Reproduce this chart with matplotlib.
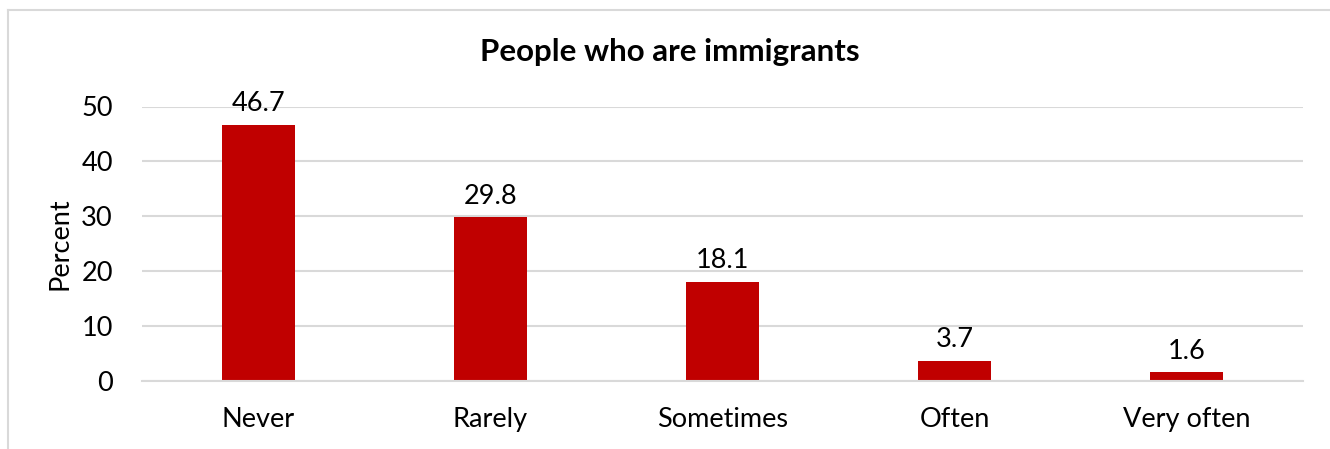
import matplotlib.pyplot as plt
from matplotlib.lines import Line2D

categories = ["Never", "Rarely", "Sometimes", "Often", "Very often"]
percent = [46.7, 29.8, 18.1, 3.7, 1.6]
yticks = [0, 10, 20, 30, 40, 50]

plt.rcParams["font.family"] = ["Lato", "DejaVu Sans"]

fig = plt.figure(figsize=(13.3, 4.49), dpi=100)
ax = fig.add_axes([142 / 1330, 1 - 381 / 449, (1303 - 142) / 1330, (381 - 106.5) / 449])

x = range(len(categories))
bars = ax.bar(x, percent, width=0.315, color="#C00000", zorder=3)
for b, v in zip(bars, percent):
    ax.annotate(f"{v}", (b.get_x() + b.get_width() / 2, v), xytext=(0, 6),
                textcoords="offset points", ha="center", va="bottom", fontsize=19.5)

ax.set_xlim(-0.5, len(categories) - 0.5)
ax.set_ylim(0, 50)
ax.set_yticks(yticks)
ax.set_xticks(list(x))
ax.set_xticklabels(categories)
ax.tick_params(axis="both", length=0, labelsize=19.5)
ax.tick_params(axis="x", pad=19)
ax.tick_params(axis="y", pad=21)
ax.grid(axis="y", color="#d9d9d9", linewidth=1.5, zorder=0)
for s in ["top", "right", "left"]:
    ax.spines[s].set_visible(False)
ax.spines["bottom"].set_color("#d9d9d9")
ax.spines["bottom"].set_linewidth(1.5)
ax.spines["bottom"].set_zorder(4)

ax.set_ylabel("Percent", fontsize=19.5, labelpad=6)
fig.text((480 + 860) / 2 / 1330, 1 - 52 / 449, "People who are immigrants",
         ha="center", va="center", fontsize=22.5, fontweight="bold")

# chart border (runs off the right and bottom edges)
fig.add_artist(Line2D([8 / 1330, 1.01], [1 - 9.5 / 449] * 2, color="#d9d9d9", lw=1.5))
fig.add_artist(Line2D([8 / 1330] * 2, [1 - 9.5 / 449, -0.01], color="#d9d9d9", lw=1.5))

fig.savefig("out.png", dpi=100)
